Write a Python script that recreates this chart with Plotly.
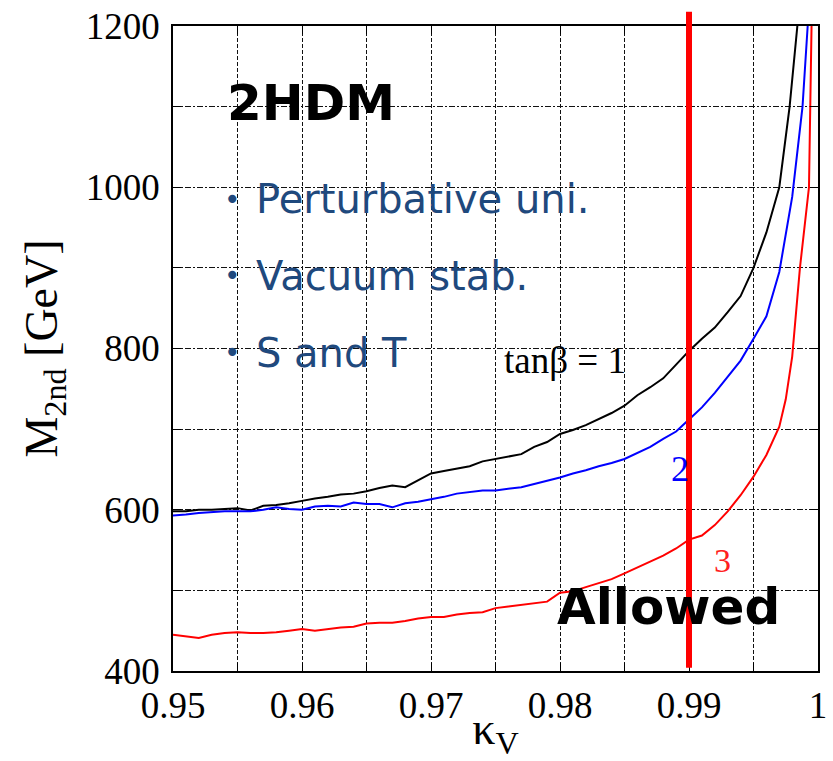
import plotly.graph_objects as go

# ---------------- data ----------------
kappa_black = [0.950,0.951,0.952,0.953,0.954,0.955,0.956,0.957,0.958,0.959,
               0.960,0.961,0.962,0.963,0.964,0.965,0.966,0.967,0.968,0.969,
               0.970,0.971,0.972,0.973,0.974,0.975,0.976,0.977,0.978,0.979,
               0.980,0.981,0.982,0.983,0.984,0.985,0.986,0.987,0.988,0.989,
               0.990,0.991,0.992,0.993,0.994,0.995,0.996,0.997,0.9978,0.9984]
m_tanb1 = [598,598,600,600,601,602,599,605,606,608,
           611,614,616,619,620,623,627,630,628,637,
           645,648,651,654,660,663,666,669,678,684,
           694,699,705,712,720,729,742,752,763,780,
           797,812,826,845,865,900,944,1000,1100,1200]

kappa_blue = [0.950,0.951,0.952,0.953,0.954,0.955,0.956,0.957,0.958,0.959,
              0.960,0.961,0.962,0.963,0.964,0.965,0.966,0.967,0.968,0.969,
              0.970,0.971,0.972,0.973,0.974,0.975,0.976,0.977,0.978,0.979,
              0.980,0.981,0.982,0.983,0.984,0.985,0.986,0.987,0.988,0.989,
              0.990,0.991,0.992,0.993,0.994,0.995,0.996,0.997,0.998,0.9988,0.9992]
m_tanb2 = [593,594,596,597,598,598,598,600,603,601,
           600,604,605,604,609,607,607,603,608,610,
           613,616,620,622,624,624,626,628,632,636,
           640,645,649,654,658,663,670,678,688,697,
           712,727,745,765,785,812,840,895,988,1100,1200]

kappa_red = [0.950,0.951,0.952,0.953,0.954,0.955,0.956,0.957,0.958,0.959,
             0.960,0.961,0.962,0.963,0.964,0.965,0.966,0.967,0.968,0.969,
             0.970,0.971,0.972,0.973,0.974,0.975,0.976,0.977,0.978,0.979,
             0.980,0.981,0.982,0.983,0.984,0.985,0.986,0.987,0.988,0.989,
             0.990,0.991,0.992,0.993,0.994,0.995,0.996,0.997,0.9975,0.998,
             0.9986,0.9993,0.9995]
m_tanb3 = [445,443,441,445,447,448,447,447,448,450,
           452,450,452,454,455,459,460,460,462,465,
           467,467,470,472,473,478,480,482,484,486,
           497,499,504,509,514,521,528,535,543,552,
           563,568,581,598,618,641,668,703,737,790,
           900,1000,1200]

kappa_limit = 0.99
x_tick_vals = [0.95, 0.96, 0.97, 0.98, 0.99, 1.0]
x_tick_labels = ["0.95", "0.96", "0.97", "0.98", "0.99", "1"]
y_tick_vals = [400, 600, 800, 1000, 1200]
y_tick_labels = ["400", "600", "800", "1000", "1200"]
bullet_items = ["Perturbative uni.", "Vacuum stab.", "S and T"]

SERIF = "Liberation Serif, Times New Roman, serif"
SANS = "DejaVu Sans, Verdana, sans-serif"
BLUE_TXT = "#1F497D"

fig = go.Figure()
fig.add_trace(go.Scatter(x=kappa_black, y=m_tanb1, mode="lines",
                         line=dict(color="black", width=2), showlegend=False))
fig.add_trace(go.Scatter(x=kappa_blue, y=m_tanb2, mode="lines",
                         line=dict(color="#0000FF", width=2), showlegend=False))
fig.add_trace(go.Scatter(x=kappa_red, y=m_tanb3, mode="lines",
                         line=dict(color="#FF0000", width=2), showlegend=False))

# vertical red limit line (extends a little above the frame)
fig.add_shape(type="line", xref="x", yref="paper",
              x0=kappa_limit, x1=kappa_limit, y0=0.005, y1=1.022,
              line=dict(color="#FF0000", width=6))

axis_common = dict(
    showline=True, linecolor="black", linewidth=1.5, mirror="ticks",
    ticks="inside", ticklen=8, tickwidth=1, tickcolor="black",
    showgrid=True, gridcolor="#111", gridwidth=1,
    zeroline=False, automargin=False,
    tickfont=dict(family=SERIF, size=37, color="black"),
)

fig.update_xaxes(
    range=[0.95, 1.0], tickmode="array", tickvals=x_tick_vals, ticktext=x_tick_labels,
    griddash="4px,2px",
    minor=dict(dtick=0.005, tick0=0.95, showgrid=True, gridcolor="#111", gridwidth=1,
               griddash="4px,2px", ticks="inside", ticklen=8, tickcolor="black"),
    title=dict(text="κ<sub>V</sub>", font=dict(family=SERIF, size=46, color="black"),
               standoff=4),
    ticklabelstandoff=1,
    **axis_common)
fig.update_yaxes(
    range=[400, 1200], tickmode="array", tickvals=y_tick_vals, ticktext=y_tick_labels,
    griddash="6px,2px,2px,2px",
    minor=dict(dtick=100, tick0=400, showgrid=True, gridcolor="#111", gridwidth=1,
               griddash="6px,2px,2px,2px", ticks="inside", ticklen=8, tickcolor="black"),
    title=dict(text="M<sub>2nd</sub> [GeV]", font=dict(family=SERIF, size=46, color="black"),
               standoff=14),
    ticklabelstandoff=4,
    **axis_common)

# text annotations
fig.add_annotation(x=0.9607, y=1105, xref="x", yref="y", text="<b>2HDM</b>",
                   showarrow=False, font=dict(family=SANS, size=50, color="black"))
bullet_y = [985, 890, 795]
for item, yy in zip(bullet_items, bullet_y):
    fig.add_annotation(x=0.9546, y=yy, xref="x", yref="y", text="•",
                       showarrow=False, font=dict(family=SANS, size=28, color=BLUE_TXT))
    fig.add_annotation(x=0.9563, y=yy, xref="x", yref="y", text=item, xanchor="left",
                       showarrow=False, font=dict(family=SANS, size=40, color=BLUE_TXT))
fig.add_annotation(x=0.9755, y=785, xref="x", yref="y", text="tanβ = 1", xanchor="left",
                   showarrow=False, font=dict(family=SERIF, size=37, color="black"))
fig.add_annotation(x=0.9893, y=650, xref="x", yref="y", text="2",
                   showarrow=False, font=dict(family=SERIF, size=36, color="#0000FF"))
fig.add_annotation(x=0.9926, y=537, xref="x", yref="y", text="3", borderpad=0,
                   showarrow=False, font=dict(family=SERIF, size=34, color="#FF2020"))
fig.add_annotation(x=0.9884, y=480, xref="x", yref="y", text="<b>Allowed</b>", borderpad=0,
                   showarrow=False, font=dict(family=SANS, size=50, color="black"))

fig.update_layout(
    width=833, height=761,
    margin=dict(l=173, r=15, t=26, b=90),
    paper_bgcolor="white", plot_bgcolor="white",
    showlegend=False,
)

fig.write_html("out.html")
